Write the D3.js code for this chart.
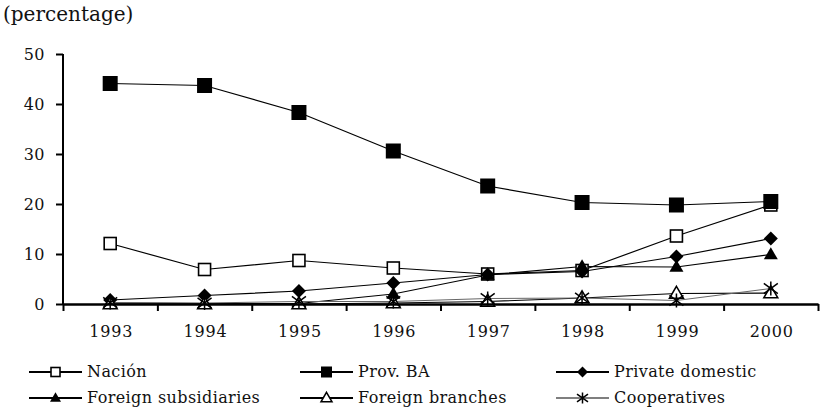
<!DOCTYPE html>
<html>
<head>
<meta charset="utf-8">
<script src="https://cdn.jsdelivr.net/npm/d3@7"></script>
<style>
  html, body { margin: 0; padding: 0; background: #fff; }
  svg { display: block; }
</style>
</head>
<body>
<div id="chart"></div>
<script>
// ---- data ----
const years = ["1993", "1994", "1995", "1996", "1997", "1998", "1999", "2000"];
const yTicks = [0, 10, 20, 30, 40, 50];
const nacion = [12.1, 6.9, 8.7, 7.2, 6.0, 6.7, 13.6, 19.8];
const provBA = [44.1, 43.7, 38.3, 30.6, 23.6, 20.3, 19.8, 20.5];
const privateDomestic = [0.8, 1.7, 2.6, 4.2, 5.9, 6.5, 9.5, 13.1];
const foreignSubsidiaries = [0.2, 0.1, 0.1, 2.0, 5.8, 7.5, 7.4, 9.9];
const foreignBranches = [0, 0, 0, 0.2, 0.5, 1.2, 2.1, 2.2];
const cooperatives = [0.3, 0.2, 0.5, 0.5, 1.1, 1.2, 0.7, 3.1];
const seriesNames = ["Nación", "Prov. BA", "Private domestic", "Foreign subsidiaries", "Foreign branches", "Cooperatives"];
const yLabel = "(percentage)";

const FONT = "'DejaVu Serif', serif";
const W = 822, H = 416;
const margin = { left: 63, right: 4, top: 54, bottom: 112 };

const series = [
  { name: seriesNames[0], values: nacion, marker: "openSquare", lw: 1.2, color: "#000" },
  { name: seriesNames[1], values: provBA, marker: "square", lw: 1.2, color: "#000" },
  { name: seriesNames[2], values: privateDomestic, marker: "diamond", lw: 1.2, color: "#000" },
  { name: seriesNames[3], values: foreignSubsidiaries, marker: "triangle", lw: 1.2, color: "#000" },
  { name: seriesNames[4], values: foreignBranches, marker: "openTriangle", lw: 1.2, color: "#000" },
  { name: seriesNames[5], values: cooperatives, marker: "asterisk", lw: 1, color: "#666" }
];

const svg = d3.select("#chart").append("svg").attr("width", W).attr("height", H)
  .style("font-family", FONT);

const x = d3.scaleBand().domain(years).range([margin.left, W - margin.right]).paddingInner(0).paddingOuter(0);
const xEdge = d3.scaleLinear().domain([0, years.length]).range([margin.left, W - margin.right]);
const y = d3.scaleLinear().domain([0, 50]).range([H - margin.bottom, margin.top]);
const cx = d => x(d) + x.bandwidth() / 2;

svg.append("text").attr("x", 3).attr("y", 21)
  .style("font-family", FONT).style("fill", "#111")
  .style("font-size", "20px")
  .text(yLabel);

const line = d3.line().x((v, i) => cx(years[i])).y(v => y(v));
series.forEach(s => {
  svg.append("path").datum(s.values)
    .attr("fill", "none").attr("stroke", s.color).attr("stroke-width", s.lw)
    .attr("d", line);
});

function drawMarker(g, type, size) {
  const h = size / 2;
  if (type === "square" || type === "openSquare") {
    const open = type === "openSquare";
    const sd = open ? size - 2 : size;
    g.append("rect").attr("x", -sd / 2).attr("y", -sd / 2).attr("width", sd).attr("height", sd)
      .attr("fill", open ? "#fff" : "#000").attr("stroke", "#000").attr("stroke-width", open ? 1.6 : 0);
  } else if (type === "diamond") {
    g.append("path").attr("d", `M0,${-h} L${h},0 L0,${h} L${-h},0 Z`).attr("fill", "#000");
  } else if (type === "triangle" || type === "openTriangle") {
    const open = type === "openTriangle";
    const th = size * 0.86;
    g.append("path").attr("d", `M0,${-th * 0.6} L${h},${th * 0.4} L${-h},${th * 0.4} Z`)
      .attr("fill", open ? "#fff" : "#000").attr("stroke", "#000").attr("stroke-width", open ? 1.5 : 0);
  } else if (type === "asterisk") {
    g.append("path").attr("d", `M0,${-h} L0,${h} M${-h},${-h * 0.72} L${h},${h * 0.72} M${-h},${h * 0.72} L${h},${-h * 0.72}`)
      .attr("fill", "none").attr("stroke", "#000").attr("stroke-width", 1.5);
  }
}

series.forEach(s => {
  s.values.forEach((v, i) => {
    const g = svg.append("g").attr("transform", `translate(${cx(years[i])},${y(v)})`);
    drawMarker(g, s.marker, s.marker === "square" ? 15 : 14);
  });
});

const yAxis = svg.append("g").attr("transform", `translate(${margin.left},0)`)
  .call(d3.axisLeft(y).tickValues(yTicks).tickSize(7).tickPadding(11).tickSizeOuter(0));
yAxis.attr("font-family", null).attr("font-size", null);
yAxis.select(".domain").attr("stroke-width", 2).attr("d", `M0,${y(50)}V${y(0)}`);
yAxis.selectAll(".tick line").attr("stroke-width", 2);
yAxis.selectAll("text").style("font-family", FONT).style("fill", "#111").style("font-size", "16px").style("letter-spacing", "0.5px");

const xAxisTicks = svg.append("g").attr("transform", `translate(0,${y(0)})`)
  .call(d3.axisBottom(xEdge).tickValues(d3.range(0, years.length + 1)).tickFormat("").tickSize(7).tickSizeOuter(0));
xAxisTicks.select(".domain").attr("stroke-width", 2.5);
xAxisTicks.selectAll(".tick line").attr("stroke-width", 2);

const xAxisLabels = svg.append("g").attr("transform", `translate(1,${y(0)})`)
  .call(d3.axisBottom(x).tickSize(0).tickPadding(22));
xAxisLabels.attr("font-family", null).attr("font-size", null);
xAxisLabels.select(".domain").remove();
xAxisLabels.selectAll("text").style("font-family", FONT).style("fill", "#111").style("font-size", "16px").style("letter-spacing", "0.8px");

const legendCols = [29, 300, 556];
const legendRows = [372, 398];
series.forEach((s, i) => {
  const col = i % 3, row = Math.floor(i / 3);
  const g = svg.append("g").attr("transform", `translate(${legendCols[col]},${legendRows[row]})`);
  g.append("line").attr("x1", 0).attr("x2", 53).attr("y1", 0).attr("y2", 0)
    .attr("stroke", "#000").attr("stroke-width", s.marker === "asterisk" ? 1.2 : 2);
  drawMarker(g.append("g").attr("transform", "translate(26.5,0)"), s.marker, 11);
  g.append("text").attr("x", 58).attr("y", 5)
    .style("font-family", FONT).style("fill", "#111")
    .style("font-size", "16px").style("letter-spacing", "0.4px")
    .text(s.name);
});
</script>
</body>
</html>
